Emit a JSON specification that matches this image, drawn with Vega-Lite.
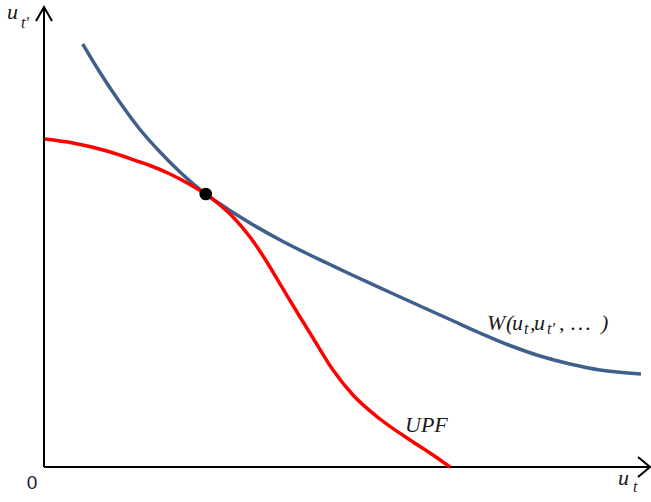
{
  "$schema": "https://vega.github.io/schema/vega-lite/v6.json",
  "width": 651,
  "height": 502,
  "padding": 0,
  "autosize": {"type": "none"},
  "background": "white",
  "config": {"view": {"stroke": null}},
  "datasets": {
    "axes": [
      {"seg": "yaxis", "x": 0, "y": 0}, {"seg": "yaxis", "x": 0, "y": 459},
      {"seg": "xaxis", "x": 0, "y": 0}, {"seg": "xaxis", "x": 605, "y": 0},
      {"seg": "yarrow", "x": -8, "y": 446, "o": 1}, {"seg": "yarrow", "x": 0, "y": 460, "o": 2}, {"seg": "yarrow", "x": 8, "y": 446, "o": 3},
      {"seg": "xarrow", "x": 594, "y": 10, "o": 1}, {"seg": "xarrow", "x": 606, "y": 0, "o": 2}, {"seg": "xarrow", "x": 594, "y": -10, "o": 3}
    ],
    "W": [
      {"x": 38.7, "y": 423}, {"x": 56, "y": 394.5}, {"x": 76, "y": 364.5}, {"x": 96, "y": 337.5},
      {"x": 116, "y": 315}, {"x": 136, "y": 295}, {"x": 161.7, "y": 273}, {"x": 186, "y": 256.5},
      {"x": 206, "y": 244}, {"x": 239, "y": 225.5}, {"x": 266, "y": 212}, {"x": 286, "y": 202.5},
      {"x": 306, "y": 193}, {"x": 343, "y": 176}, {"x": 376, "y": 161}, {"x": 406, "y": 147.5},
      {"x": 436, "y": 134}, {"x": 466, "y": 121.5}, {"x": 496, "y": 111}, {"x": 526, "y": 103},
      {"x": 556, "y": 97}, {"x": 597, "y": 93}
    ],
    "UPF": [
      {"x": 1, "y": 328}, {"x": 29, "y": 324}, {"x": 63, "y": 316}, {"x": 96, "y": 305},
      {"x": 106, "y": 301.5}, {"x": 126, "y": 293}, {"x": 146, "y": 282.5}, {"x": 161.7, "y": 273},
      {"x": 176, "y": 262}, {"x": 189, "y": 250}, {"x": 206, "y": 230}, {"x": 222.7, "y": 205.3},
      {"x": 237.7, "y": 180.3}, {"x": 256, "y": 150}, {"x": 269, "y": 129}, {"x": 289, "y": 97},
      {"x": 309, "y": 72}, {"x": 336, "y": 48}, {"x": 366, "y": 27}, {"x": 389, "y": 12}, {"x": 406, "y": 0}
    ],
    "dot": [{"x": 161.7, "y": 273}],
    "mainText": [
      {"t": "u", "x": -37, "y": 448},
      {"t": "u", "x": 574, "y": -18},
      {"t": "UPF", "x": 361, "y": 35},
      {"t": "W", "x": 443, "y": 137},
      {"t": "(", "x": 462, "y": 137},
      {"t": "u", "x": 468, "y": 137},
      {"t": ",", "x": 486, "y": 137},
      {"t": "u", "x": 490, "y": 137},
      {"t": ",", "x": 515, "y": 137},
      {"t": "…", "x": 527, "y": 137},
      {"t": ")", "x": 557, "y": 137}
    ],
    "subText": [
      {"t": "t′", "x": -23, "y": 439},
      {"t": "t", "x": 589, "y": -25},
      {"t": "t", "x": 480, "y": 133},
      {"t": "t′", "x": 503, "y": 133}
    ],
    "zero": [{"t": "0", "x": -12, "y": -22}]
  },
  "layer": [
    {
      "data": {"name": "axes"},
      "mark": {"type": "line", "color": "black", "strokeWidth": 2},
      "encoding": {
        "x": {"field": "x", "type": "quantitative", "scale": {"domain": [-44, 607], "nice": false, "zero": false}, "axis": null},
        "y": {"field": "y", "type": "quantitative", "scale": {"domain": [-35, 467], "nice": false, "zero": false}, "axis": null},
        "detail": {"field": "seg"},
        "order": {"field": "o"}
      }
    },
    {
      "data": {"name": "W"},
      "mark": {"type": "line", "color": "#3F5F8C", "strokeWidth": 3.5, "interpolate": "monotone"},
      "encoding": {
        "x": {"field": "x", "type": "quantitative", "scale": {"domain": [-44, 607], "nice": false, "zero": false}, "axis": null},
        "y": {"field": "y", "type": "quantitative", "scale": {"domain": [-35, 467], "nice": false, "zero": false}, "axis": null}
      }
    },
    {
      "data": {"name": "UPF"},
      "mark": {"type": "line", "color": "#FF0000", "strokeWidth": 3.5, "interpolate": "monotone"},
      "encoding": {
        "x": {"field": "x", "type": "quantitative", "scale": {"domain": [-44, 607], "nice": false, "zero": false}, "axis": null},
        "y": {"field": "y", "type": "quantitative", "scale": {"domain": [-35, 467], "nice": false, "zero": false}, "axis": null}
      }
    },
    {
      "data": {"name": "dot"},
      "mark": {"type": "circle", "color": "black", "opacity": 1, "size": 160},
      "encoding": {
        "x": {"field": "x", "type": "quantitative", "scale": {"domain": [-44, 607], "nice": false, "zero": false}, "axis": null},
        "y": {"field": "y", "type": "quantitative", "scale": {"domain": [-35, 467], "nice": false, "zero": false}, "axis": null}
      }
    },
    {
      "data": {"name": "mainText"},
      "mark": {"type": "text", "font": "Liberation Serif", "fontStyle": "italic", "fontSize": 22, "align": "left", "baseline": "alphabetic", "color": "#1a1a1a"},
      "encoding": {
        "x": {"field": "x", "type": "quantitative", "scale": {"domain": [-44, 607], "nice": false, "zero": false}, "axis": null},
        "y": {"field": "y", "type": "quantitative", "scale": {"domain": [-35, 467], "nice": false, "zero": false}, "axis": null},
        "text": {"field": "t"}
      }
    },
    {
      "data": {"name": "subText"},
      "mark": {"type": "text", "font": "Liberation Serif", "fontStyle": "italic", "fontSize": 16, "align": "left", "baseline": "alphabetic", "color": "#1a1a1a"},
      "encoding": {
        "x": {"field": "x", "type": "quantitative", "scale": {"domain": [-44, 607], "nice": false, "zero": false}, "axis": null},
        "y": {"field": "y", "type": "quantitative", "scale": {"domain": [-35, 467], "nice": false, "zero": false}, "axis": null},
        "text": {"field": "t"}
      }
    },
    {
      "data": {"name": "zero"},
      "mark": {"type": "text", "font": "Liberation Sans", "fontSize": 19, "align": "center", "baseline": "alphabetic", "color": "#1a1a3a"},
      "encoding": {
        "x": {"field": "x", "type": "quantitative", "scale": {"domain": [-44, 607], "nice": false, "zero": false}, "axis": null},
        "y": {"field": "y", "type": "quantitative", "scale": {"domain": [-35, 467], "nice": false, "zero": false}, "axis": null},
        "text": {"field": "t"}
      }
    }
  ]
}
